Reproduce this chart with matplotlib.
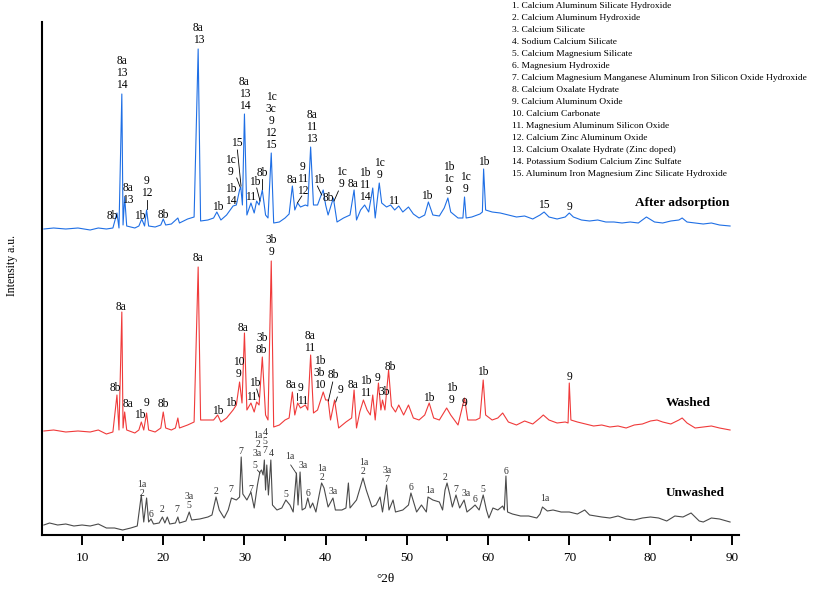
import matplotlib
matplotlib.use('Agg')
import matplotlib.pyplot as plt

plt.rcParams['font.family'] = ['Liberation Serif', 'DejaVu Serif']

# (2theta, intensity a.u.), traces already stacked
unwashed = [
    (5.3, 10), (6, 12), (7, 10), (8, 11), (9, 9), (10, 10), (11, 9), (12, 11), (13, 7), (14, 7),
    (15, 5), (16, 7), (16.8, 9), (17.3, 40), (17.6, 13), (17.95, 37), (18.2, 13), (18.5, 16),
    (18.8, 11), (19.5, 12), (19.9, 18), (20.2, 12), (20.5, 18), (20.8, 11), (21.5, 12), (21.8, 18),
    (22.0, 12), (22.8, 14), (23.2, 23), (23.5, 15), (24.5, 16), (25.5, 18), (26.0, 20), (26.5, 38),
    (26.9, 25), (27.5, 17), (28.0, 25), (28.4, 37), (29.0, 35), (29.4, 38), (29.6, 78), (29.8, 41),
    (30.3, 35), (30.8, 43), (31.2, 27), (31.6, 50), (31.9, 63), (32.1, 65), (32.3, 60), (32.45, 75),
    (32.6, 45), (32.75, 70), (32.95, 40), (33.25, 75), (33.45, 30), (34.0, 25), (34.6, 27),
    (35.1, 35), (35.6, 30), (36.0, 23), (36.4, 62), (36.6, 30), (36.85, 63), (37.1, 25), (37.5, 27),
    (37.8, 37), (38.1, 27), (38.4, 32), (38.8, 23), (39.2, 40), (39.5, 52), (39.8, 47), (40.3, 28),
    (40.9, 37), (41.2, 25), (42.0, 25), (42.5, 27), (42.8, 52), (43.0, 27), (43.8, 35), (44.6, 57),
    (45.0, 45), (45.7, 28), (46.2, 30), (46.7, 38), (47.0, 23), (47.5, 50), (47.8, 25), (48.3, 35),
    (48.6, 23), (49.5, 25), (50.2, 30), (50.5, 42), (51.2, 23), (51.8, 30), (52.4, 23), (52.6, 38),
    (53.2, 35), (54.0, 33), (54.4, 25), (54.7, 45), (54.95, 52), (55.3, 40), (55.6, 28), (56.05, 40),
    (56.5, 27), (57.05, 35), (57.4, 23), (58.0, 27), (58.4, 30), (58.9, 25), (59.4, 40), (59.8, 25),
    (60.1, 17), (60.6, 27), (61.2, 25), (61.8, 29), (62.0, 25), (62.2, 59), (62.4, 23), (63.0, 21),
    (64.0, 19), (65.0, 19), (66.0, 17), (66.4, 21), (66.7, 28), (67.3, 24), (68.0, 25), (69.0, 23),
    (70.0, 23), (71.0, 21), (71.9, 25), (72.5, 20), (74.0, 18), (75.0, 17), (76.0, 19), (77.0, 16),
    (78.0, 15), (79.0, 17), (80.0, 18), (81.0, 17), (82.0, 14), (83.0, 19), (84.0, 18), (85.0, 22),
    (86.0, 14), (86.5, 13), (87.5, 17), (88.5, 16), (89.8, 13),
]

washed = [
    (5.3, 104), (6.5, 105), (8, 103), (9.5, 104), (11, 103), (12, 105), (13, 101), (13.8, 103),
    (14.3, 140), (14.55, 105), (14.9, 223), (15.05, 107), (15.25, 123), (15.5, 105), (16.5, 102),
    (17.0, 105), (17.3, 113), (17.6, 105), (17.95, 122), (18.2, 105), (19.0, 103), (19.7, 107),
    (20.0, 123), (20.3, 107), (21.0, 105), (21.5, 107), (21.8, 117), (22.0, 107), (23.0, 110),
    (23.8, 113), (24.3, 268), (24.6, 115), (25.5, 115), (26.2, 115), (26.7, 120), (27.1, 113),
    (27.8, 117), (28.6, 125), (29.0, 130), (29.4, 153), (29.7, 132), (30.0, 202), (30.3, 125),
    (30.8, 132), (31.2, 123), (31.5, 133), (31.8, 130), (32.2, 178), (32.6, 120), (32.9, 115),
    (33.3, 274), (33.6, 108), (34.3, 110), (35.0, 115), (35.5, 117), (35.9, 143), (36.2, 120),
    (36.55, 132), (36.9, 127), (37.5, 130), (37.8, 125), (38.15, 180), (38.5, 122), (39.0, 125),
    (39.7, 143), (40.0, 135), (40.3, 135), (40.6, 115), (41.1, 135), (41.6, 107), (42.5, 113),
    (43.2, 117), (43.5, 145), (43.8, 107), (44.2, 123), (44.65, 135), (45.1, 125), (45.5, 120),
    (45.8, 140), (46.1, 115), (46.5, 152), (46.8, 125), (47.0, 135), (47.3, 125), (47.75, 165),
    (48.1, 129), (48.6, 123), (49.0, 130), (49.6, 120), (50.2, 130), (50.8, 117), (51.5, 115),
    (52.2, 120), (52.75, 132), (53.3, 117), (54.0, 115), (54.9, 127), (55.4, 120), (56.3, 110),
    (57.1, 137), (57.5, 115), (58.5, 115), (59.0, 117), (59.4, 155), (59.7, 120), (60.5, 115),
    (61.2, 117), (61.8, 122), (62.5, 113), (63.5, 110), (64.5, 114), (65.5, 111), (66.4, 117),
    (66.8, 120), (67.5, 115), (68.5, 112), (69.5, 113), (69.85, 112), (70.0, 152), (70.2, 115),
    (71.0, 113), (72.0, 111), (73.0, 109), (74.0, 110), (75.0, 108), (76.0, 109), (77.0, 107),
    (78.0, 110), (79.0, 111), (80.0, 114), (80.8, 115), (81.5, 113), (82.5, 111), (83.5, 115),
    (83.9, 117), (84.5, 112), (85.5, 107), (86.5, 108), (87.5, 109), (88.5, 107), (89.8, 105),
]

after_adsorption = [
    (5.3, 306), (6.5, 307), (8, 306), (9.5, 307), (11, 305), (12, 307), (13, 306), (13.8, 307),
    (14.3, 322), (14.55, 307), (14.9, 441), (15.05, 310), (15.25, 338), (15.5, 309), (16.5, 307),
    (17.0, 309), (17.35, 316), (17.7, 309), (17.95, 325), (18.2, 309), (19.0, 308), (19.7, 310),
    (20.0, 316), (20.3, 310), (21.0, 311), (21.8, 317), (22.0, 312), (23.0, 316), (23.8, 318),
    (24.3, 486), (24.6, 314), (25.5, 315), (26.2, 317), (26.6, 323), (27.1, 315), (27.8, 320),
    (28.6, 329), (29.0, 330), (29.4, 345), (29.55, 348), (29.75, 330), (30.0, 421), (30.3, 320),
    (30.8, 332), (31.2, 322), (31.5, 334), (31.8, 330), (32.2, 345), (32.6, 320), (32.9, 317),
    (33.3, 382), (33.6, 312), (34.3, 313), (35.0, 317), (35.5, 321), (35.9, 349), (36.2, 325),
    (36.55, 332), (36.9, 328), (37.5, 330), (37.8, 329), (38.15, 388), (38.5, 330), (39.0, 330),
    (39.4, 339), (39.7, 345), (40.0, 330), (40.3, 320), (40.95, 337), (41.4, 313), (42.2, 317),
    (43.0, 320), (43.5, 345), (43.8, 315), (44.3, 325), (44.8, 330), (45.3, 323), (45.8, 347),
    (46.1, 317), (46.6, 352), (46.9, 332), (47.5, 328), (48.0, 330), (48.5, 325), (49.0, 329),
    (49.5, 323), (50.2, 328), (50.8, 321), (51.5, 317), (52.2, 320), (52.65, 333), (53.2, 320),
    (54.0, 319), (54.6, 327), (55.05, 337), (55.4, 323), (56.3, 317), (56.9, 317), (57.1, 338),
    (57.3, 317), (58.0, 318), (59.0, 321), (59.3, 323), (59.45, 366), (59.7, 325), (60.5, 323),
    (61.5, 322), (62.5, 320), (63.5, 318), (64.5, 319), (65.5, 316), (66.4, 320), (66.9, 323),
    (67.5, 318), (68.5, 316), (69.5, 318), (70.0, 322), (70.5, 318), (71.5, 315), (72.5, 314),
    (73.5, 315), (74.5, 313), (75.5, 313), (76.5, 312), (77.5, 313), (78.5, 312), (79.5, 318),
    (80.5, 313), (81.5, 312), (82.5, 314), (83.5, 315), (83.9, 317), (84.5, 313), (85.5, 312),
    (86.5, 311), (87.5, 312), (88.5, 310), (89.8, 309),
]

phases = [
    '1. Calcium Aluminum Silicate Hydroxide',
    '2. Calcium Aluminum Hydroxide',
    '3. Calcium Silicate',
    '4. Sodium Calcium Silicate',
    '5. Calcium Magnesium Silicate',
    '6. Magnesium Hydroxide',
    '7. Calcium Magnesium Manganese Aluminum Iron Silicon Oxide Hydroxide',
    '8. Calcium Oxalate Hydrate',
    '9. Calcium Aluminum Oxide',
    '10. Calcium Carbonate',
    '11. Magnesium Aluminum Silicon Oxide',
    '12. Calcium Zinc Aluminum Oxide',
    '13. Calcium Oxalate Hydrate (Zinc doped)',
    '14. Potassium Sodium Calcium Zinc Sulfate',
    '15. Aluminum Iron Magnesium Zinc Silicate Hydroxide',
]

# peak labels: (text, 2theta, bottom of text in a.u.)
labels_after = [
    ('8b', 13.73, 313), ('8a\n13\n14', 14.89, 444), ('8a\n13', 15.63, 329), ('1b', 17.14, 313),
    ('9\n12', 17.97, 336), ('8b', 20.01, 314), ('8a\n13', 24.32, 489), ('1b', 26.66, 322),
    ('1c\n9', 28.23, 357), ('1b\n14', 28.29, 328), ('15', 29.05, 386), ('8a\n13\n14', 29.99, 423),
    ('11', 30.78, 332), ('1b', 31.22, 347), ('8b', 32.2, 356), ('1c\n3c\n9\n12\n15', 33.28, 384),
    ('8a', 35.83, 349), ('9\n11\n12', 37.13, 338), ('8a\n11\n13', 38.29, 390), ('1b', 39.1, 349),
    ('8b', 40.3, 331), ('1c\n9', 41.9, 345), ('8a', 43.34, 345), ('1b\n11\n14', 44.85, 332),
    ('1c\n9', 46.61, 354), ('11', 48.34, 328), ('1b', 52.45, 333), ('1b\n1c\n9', 55.11, 338),
    ('1c\n9', 57.17, 340), ('1b', 59.42, 367), ('15', 66.93, 324), ('9', 70.01, 322),
]
leaders_after = [
    ((17.97, 335), (17.97, 326)), ((29.05, 357), (29.46, 348)), ((29.13, 385), (29.58, 349)),
    ((31.51, 347), (31.92, 334)), ((32.2, 356), (32.2, 346)), ((37.06, 339), (36.51, 332)),
    ((38.98, 349), (39.52, 340)), ((41.57, 344), (41.03, 334)),
]

labels_washed = [
    ('8b', 14.06, 141), ('8a', 14.8, 222), ('8a', 15.63, 125), ('1b', 17.14, 114), ('9', 17.97, 126),
    ('8b', 20.01, 125), ('8a', 24.25, 271), ('1b', 26.71, 118), ('1b', 28.35, 126),
    ('10\n9', 29.25, 155), ('8a', 29.86, 201), ('11', 30.9, 132), ('1b', 31.31, 146),
    ('3b\n8b', 32.13, 179), ('3b\n9', 33.28, 277), ('8a', 35.7, 144), ('9', 36.93, 141),
    ('11', 37.18, 128), ('8a\n11', 38.08, 181), ('1b\n3b\n10', 39.23, 144), ('8b', 40.95, 154),
    ('9', 41.77, 139), ('8a', 43.41, 144), ('1b\n11', 44.94, 136), ('9', 46.42, 151),
    ('3b', 47.16, 137), ('8b', 47.93, 162), ('1b', 52.73, 131), ('1b\n9', 55.53, 129),
    ('9', 57.08, 126), ('1b', 59.35, 157), ('9', 69.98, 152),
]
leaders_washed = [
    ((31.51, 146), (31.8, 138)), ((36.52, 142), (36.52, 135)), ((40.87, 153), (40.33, 134)),
    ((41.44, 138), (41.24, 133)),
]

labels_unwashed = [
    ('1a\n2', 17.35, 37), ('6', 18.5, 16), ('2', 19.89, 21), ('7', 21.66, 21), ('3a\n5', 23.18, 25),
    ('2', 26.5, 39), ('7', 28.31, 41), ('7', 29.58, 79), ('7', 30.78, 41), ('1a\n2\n3a', 31.61, 77),
    ('5', 31.3, 65), ('4\n5\n7', 32.54, 80), ('4', 33.28, 77), ('5', 35.12, 36), ('1a', 35.53, 74),
    ('3a', 37.25, 65), ('6', 37.87, 37), ('1a\n2', 39.52, 53), ('3a', 40.95, 39), ('1a\n2', 44.64, 59),
    ('3a\n7', 47.56, 51), ('6', 50.52, 43), ('1a', 52.77, 40), ('2', 54.74, 53), ('7', 56.06, 41),
    ('3a', 57.29, 37), ('6', 58.4, 31), ('5', 59.42, 41), ('6', 62.18, 59), ('1a', 66.93, 32),
]
leaders_unwashed = [
    ((31.59, 65), (31.92, 62)), ((35.7, 70), (36.35, 62)),
]

sample_names = ['After adsorption', 'Washed', 'Unwashed']
sample_name_pos = [(83.9, 332), (84.6, 132), (85.5, 42)]


def draw_labels(ax, labels, leaders, size, color):
    for text, x, y in labels:
        ax.text(x, y, text, ha='center', va='bottom', fontsize=size, color=color,
                linespacing=1.0, clip_on=False)
    for (x0, y0), (x1, y1) in leaders:
        ax.plot([x0, x1], [y0, y1], color=color, lw=0.6)


if __name__ == '__main__':
    fig = plt.figure(figsize=(8.13, 5.92), dpi=100)
    ax = fig.add_axes([42 / 813, 1 - 535 / 592, 697 / 813, 513 / 592])

    traces = [(after_adsorption, '#1f6fe5'), (washed, '#f03a3a'), (unwashed, '#4a4a4a')]
    for data, color in traces:
        ax.plot([p[0] for p in data], [p[1] for p in data], color=color, lw=0.8)

    draw_labels(ax, labels_after, leaders_after, 8.3, 'black')
    draw_labels(ax, labels_washed, leaders_washed, 8.3, 'black')
    draw_labels(ax, labels_unwashed, leaders_unwashed, 7, '#333333')

    for name, (x, y) in zip(sample_names, sample_name_pos):
        ax.text(x, y, name, ha='center', va='center', fontsize=9.5, fontweight='bold')

    ax.set_xlim(5.07, 90.9)
    ax.set_ylim(0, 513)
    for side in ['top', 'right']:
        ax.spines[side].set_visible(False)
    for side in ['left', 'bottom']:
        ax.spines[side].set_linewidth(1.5)
    ax.set_yticks([])
    ax.set_xticks(range(10, 91, 10))
    ax.set_xticks(range(15, 90, 10), minor=True)
    ax.tick_params(axis='x', which='major', length=7, width=1.4, labelsize=9.5, pad=5)
    ax.tick_params(axis='x', which='minor', length=4, width=1.4)

    fig.text(12 / 813, 1 - 265 / 592, 'Intensity a.u.', rotation=90, ha='center', va='center',
             fontsize=8.5)
    fig.text(385 / 813, 1 - 579 / 592, '°2θ', ha='center', va='center', fontsize=9.5)

    for i, line in enumerate(phases):
        fig.text(512 / 813, 1 - (6 + 12 * i) / 592, line, ha='left', va='center', fontsize=6.8)

    fig.savefig('out.png', dpi=100)
    plt.close()
